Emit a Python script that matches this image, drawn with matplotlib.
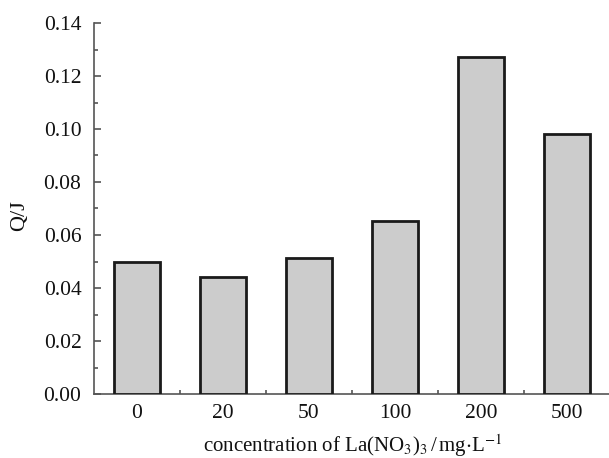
import matplotlib
matplotlib.use("Agg")
import matplotlib.pyplot as plt
from matplotlib.ticker import MultipleLocator, FixedLocator

categories = ["0", "20", "50", "100", "200", "500"]
values = [0.0498, 0.0443, 0.0512, 0.0653, 0.1273, 0.0980]
yticks = [0.00, 0.02, 0.04, 0.06, 0.08, 0.10, 0.12, 0.14]

plt.rcParams['font.family'] = ['Liberation Serif', 'DejaVu Serif']
plt.rcParams['mathtext.fontset'] = 'stix'

fig = plt.figure(figsize=(6.09, 4.58), dpi=100)
ax = fig.add_axes([94/609, 1-394/458, (610-94)/609, (394-23)/458])

x = list(range(len(categories)))
ax.bar(x, values, width=0.53, color='#cccccc', edgecolor='#1a1a1a', linewidth=2.0, zorder=3)

ax.set_xlim(-0.5, 5.5)
ax.set_ylim(0, 0.14)
ax.set_xticks(x)
ax.set_xticklabels(categories)
ax.set_yticks(yticks)
ax.set_yticklabels([f"{t:.2f}" for t in yticks])
ax.yaxis.set_minor_locator(MultipleLocator(0.01))
ax.xaxis.set_minor_locator(FixedLocator([0.5, 1.5, 2.5, 3.5, 4.5]))

for s in ['top', 'right']:
    ax.spines[s].set_visible(False)
for s in ['left', 'bottom']:
    ax.spines[s].set_color('#555555')
    ax.spines[s].set_linewidth(1.2)

ax.tick_params(which='both', direction='in', colors='#555555', labelcolor='#111111')
ax.tick_params(which='major', length=5, width=1.2, labelsize=15.5)
ax.tick_params(which='minor', length=3, width=1.2)
ax.tick_params(axis='y', which='major', pad=9)
ax.tick_params(axis='x', which='major', pad=7)

ax.set_ylabel('Q/J', fontsize=16, color='#111111')
ax.yaxis.set_label_coords(-0.125, 0.48)
ax.set_xlabel(r'concentration of La(NO$_3$)$_3$$\,$/$\,$mg$\cdot$L$^{-1}$', fontsize=15, color='#111111', labelpad=7)

fig.savefig('out.png', dpi=100)
